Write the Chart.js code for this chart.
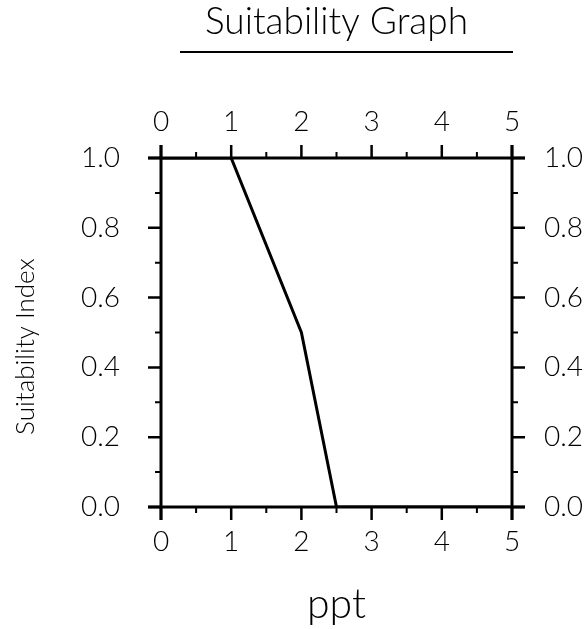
<!DOCTYPE html>
<html>
<head>
<meta charset="utf-8">
<script src="https://cdn.jsdelivr.net/npm/chart.js@4/dist/chart.umd.min.js"></script>
<style>
  html, body { margin: 0; padding: 0; background: #fff; }
  #wrap { width: 588px; height: 629px; }
</style>
</head>
<body>
<div id="wrap"><canvas id="suitChart"></canvas></div>
<script>
// data
const pptValues = [0, 1, 2, 2.5, 5];
const suitIndex = [1.0, 1.0, 0.5, 0.0, 0.0];

// axis ticks
const xMajorTicks = [0, 1, 2, 3, 4, 5];
const xMinorTicks = [0.5, 1.5, 2.5, 3.5, 4.5];
const yMajorTicks = [0, 0.2, 0.4, 0.6, 0.8, 1.0];
const yMinorTicks = [0.1, 0.3, 0.5, 0.7, 0.9];

const FONT = "Lato, 'Open Sans', sans-serif";

// box frame with outside tick marks + top title, drawn from the scales
const framePlugin = {
  id: "frame",
  afterDraw(chart) {
    const { ctx, chartArea: a, scales } = chart;
    const ext = 13;
    ctx.save();
    ctx.strokeStyle = "#000";
    ctx.lineCap = "butt";

    ctx.lineWidth = 3;
    ctx.beginPath();
    ctx.moveTo(a.left - ext, a.top); ctx.lineTo(a.right + ext, a.top);
    ctx.moveTo(a.left - ext, a.bottom); ctx.lineTo(a.right + ext, a.bottom);
    ctx.moveTo(a.left, a.top - ext); ctx.lineTo(a.left, a.bottom + ext);
    ctx.moveTo(a.right, a.top - ext); ctx.lineTo(a.right, a.bottom + ext);
    ctx.stroke();

    const xTick = (v, len) => {
      const px = scales.x.getPixelForValue(v);
      ctx.moveTo(px, a.bottom); ctx.lineTo(px, a.bottom + len);
      ctx.moveTo(px, a.top); ctx.lineTo(px, a.top - len);
    };
    const yTick = (v, len) => {
      const py = scales.y.getPixelForValue(v);
      ctx.moveTo(a.left, py); ctx.lineTo(a.left - len, py);
      ctx.moveTo(a.right, py); ctx.lineTo(a.right + len, py);
    };
    ctx.lineWidth = 2.5;
    ctx.beginPath();
    xMajorTicks.forEach(v => xTick(v, 13));
    yMajorTicks.forEach(v => yTick(v, 13));
    ctx.stroke();
    ctx.lineWidth = 2;
    ctx.beginPath();
    xMinorTicks.forEach(v => xTick(v, 6));
    yMinorTicks.forEach(v => yTick(v, 6));
    ctx.stroke();

    // title with underline
    const cx = (a.left + a.right) / 2;
    ctx.fillStyle = "#000";
    ctx.font = "300 37px " + FONT;
    ctx.textAlign = "center";
    ctx.textBaseline = "alphabetic";
    ctx.fillText("Suitability Graph", cx, 34);
    ctx.lineWidth = 2;
    ctx.beginPath();
    ctx.moveTo(a.left + 19, 52); ctx.lineTo(a.right + 1, 52);
    ctx.stroke();
    ctx.restore();
  }
};

const tickFont = { family: FONT, size: 28, weight: "300" };
const setTicks = vals => s => { s.ticks = vals.map(v => ({ value: v })); };

new Chart(document.getElementById("suitChart"), {
  type: "line",
  data: {
    datasets: [{
      data: pptValues.map((x, i) => ({ x, y: suitIndex[i] })),
      borderColor: "#000",
      borderWidth: 3,
      pointRadius: 0,
      tension: 0,
      fill: false
    }]
  },
  options: {
    responsive: true,
    maintainAspectRatio: false,
    animation: false,
    layout: { padding: 0 },
    plugins: { legend: { display: false }, tooltip: { enabled: false }, title: { display: false } },
    scales: {
      x: {
        type: "linear", position: "bottom", min: 0, max: 5,
        afterBuildTicks: setTicks(xMajorTicks),
        afterFit: s => { s.height = 122; },
        grid: { display: false }, border: { display: false },
        ticks: { font: tickFont, color: "#000", padding: 10, maxRotation: 0 },
        title: { display: true, text: "ppt", color: "#000", font: { family: FONT, size: 41, weight: "300" }, padding: { top: 0, bottom: 0 } }
      },
      x2: {
        type: "linear", position: "top", min: 0, max: 5,
        afterBuildTicks: setTicks(xMajorTicks),
        afterFit: s => { s.height = 158; },
        grid: { display: false }, border: { display: false },
        ticks: { font: tickFont, color: "#000", padding: 11, maxRotation: 0 }
      },
      y: {
        type: "linear", position: "left", min: 0, max: 1,
        afterBuildTicks: setTicks(yMajorTicks),
        afterFit: s => { s.width = 161; },
        grid: { display: false }, border: { display: false },
        ticks: { font: tickFont, color: "#000", padding: 33, callback: v => v.toFixed(1) },
        title: { display: true, text: "Suitability Index    ", color: "#000", font: { family: FONT, size: 26, weight: "300" }, padding: { top: 10, bottom: 0 } }
      },
      y2: {
        type: "linear", position: "right", min: 0, max: 1,
        afterBuildTicks: setTicks(yMajorTicks),
        afterFit: s => { s.width = 76; },
        grid: { display: false }, border: { display: false },
        ticks: { font: tickFont, color: "#000", padding: 24, callback: v => v.toFixed(1) }
      }
    }
  },
  plugins: [framePlugin]
});
</script>
</body>
</html>
